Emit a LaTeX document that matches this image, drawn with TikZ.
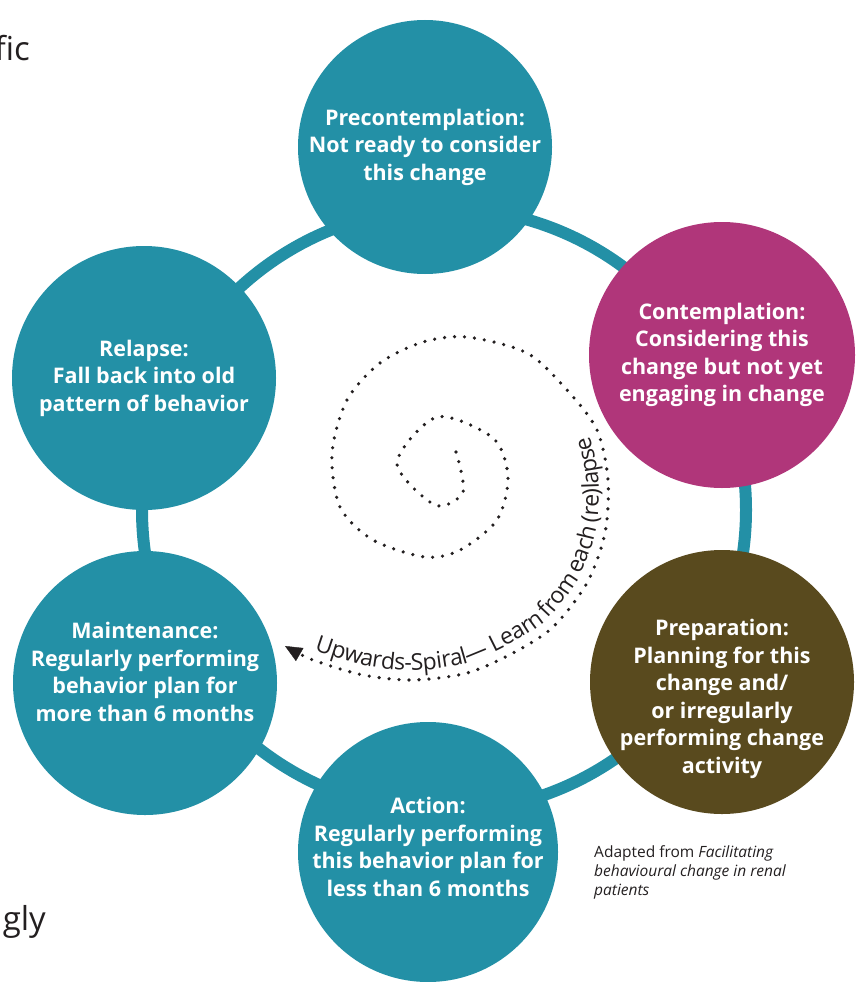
\documentclass[tikz,border=0pt]{standalone}
\usepackage{fontspec}
\setmainfont{Open Sans}
\usetikzlibrary{arrows.meta,decorations.text}
\definecolor{ringteal}{RGB}{35,144,166}
\definecolor{stagemagenta}{RGB}{176,54,122}
\definecolor{stagebrown}{RGB}{89,74,30}
\definecolor{inkgray}{RGB}{35,31,32}
\tikzset{
  stage/.style={circle,inner sep=0pt,fill=ringteal},
  stagetext/.style={text=white,font=\bfseries\fontsize{21.5}{27.5}\selectfont,align=center,inner sep=0pt},
  spiraldots/.style={draw=inkgray,line width=3.6pt,line cap=round,dash pattern=on 0pt off 10pt}
}
\begin{document}
\begin{tikzpicture}[x=1pt,y=-1pt]
\useasboundingbox (0,0) rectangle (863,982);
% ring behind the stages
\draw[line width=12pt,ringteal] (444,510) circle[radius=302];
% stages
\foreach \x/\y/\d/\c/\n in {425/147/254/ringteal/S1,722/355/266/stagemagenta/S2,722/682/264/stagebrown/S3,
                            428/852/260/ringteal/S4,145/683/264/ringteal/S5,144/378/264/ringteal/S6}{
  \node[stage,fill=\c,minimum size=\d pt,name=\n] at (\x,\y){};
}
\node[stagetext,name=T1] at (S1.center) {Precontemplation:\\Not ready to consider\\this change};
\node[stagetext,name=T2] at (S2.center) {Contemplation:\\Considering this\\change but not yet\\engaging in change};
\node[stagetext,name=T3] at ([yshift=-17pt]S3.center) {Preparation:\\Planning for this\\change and/\\or irregularly\\performing change\\activity};
\node[stagetext,name=T4] at ([yshift=5pt]S4.center) {Action:\\Regularly performing\\this behavior plan for\\less than 6 months};
\node[stagetext,name=T5] at ([yshift=11pt]S5.center) {Maintenance:\\Regularly performing\\behavior plan for\\more than 6 months};
\node[stagetext,name=T6] at (S6.center) {Relapse:\\Fall back into old\\pattern of behavior};
% spiral
\draw[spiraldots,-{Triangle[length=17pt,width=15pt,line width=0.4pt]}] plot[smooth] coordinates {(456,452) (463,492) (435,505) (397,463) (437,417) (493,438) (508,477) (497,520) (460,550) (425,557) (373,540) (340,507) (332,453) (347,400) (380,363) (423,342) (467,337) (527,353) (567,390) (597,430) (608,480) (605,533) (587,583) (553,627) (513,653) (467,673) (413,680) (363,675) (313,660) (285,646)};
\path[decorate,decoration={text along path,raise=9.5pt,text color=inkgray,
  text={|\fontsize{23}{23}\selectfont|Upwards-Spiral— Learn from each (re)lapse}}]
  plot[smooth] coordinates {(311,659) (363,675) (413,680) (467,673) (513,653) (553,627) (587,583) (605,533) (608,480) (597,430) (567,390) (527,353)};
% source and cut page text
\node[anchor=north west,align=left,inner sep=0pt,text=inkgray,font=\fontsize{15.5}{19}\selectfont,name=source] at (594,845)
  {Adapted from \textit{Facilitating}\\\textit{behavioural change in renal}\\\textit{patients}};
\node[anchor=base east,inner sep=0pt,text=inkgray,font=\fontsize{33}{33}\selectfont,name=frag1] at (30,61) {fic};
\node[anchor=base east,inner sep=0pt,text=inkgray,font=\fontsize{33}{33}\selectfont,name=frag2] at (46,930) {ngly};
\end{tikzpicture}
\end{document}
